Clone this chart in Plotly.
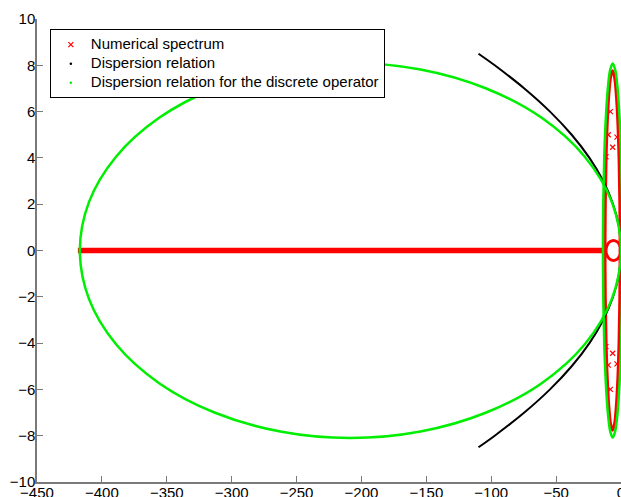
import plotly.graph_objects as go

# ---------------- data ----------------
# isolated eigenvalues of the numerical spectrum
spec_x = [-8.2, -9.8, -3.1, -6.4, -11.6, -8.2, -9.8, -3.1, -6.4, -11.6]
spec_y = [6.0, 5.0, 4.9, 4.46, 4.05, -6.0, -4.95, -4.9, -4.44, -4.15]

# dense real eigenvalues (solid band on the real axis)
band_x = [-418.5, -12.3]
band_y = [0.0, 0.0]

# elongated ellipse of eigenvalues (upper half, right end -> left end)
red_ell_x = [-0.7, -0.9, -1.48, -2.4, -3.6, -5.0, -6.5, -8.0, -9.4, -10.6, -11.52, -12.1, -12.3]
red_ell_y = [0.0, 2.01, 3.88, 5.49, 6.72, 7.5, 7.76, 7.5, 6.72, 5.49, 3.88, 2.01, 0.0]

# small ring of eigenvalues near the origin (upper half)
ring_x = [0.0, -0.78, -2.9, -5.8, -8.7, -10.82, -11.6]
ring_y = [0.0, 0.215, 0.372, 0.43, 0.372, 0.215, 0.0]

# continuous dispersion relation
disp_y = [8.5, 8, 7, 6, 5, 4, 3, 2, 1, 0, -1, -2, -3, -4, -5, -6, -7, -8, -8.5]
disp_x = [-109.8, -97.3, -74.5, -54.7, -38.0, -24.3, -13.7, -6.1, -1.5, 0.0,
          -1.5, -6.1, -13.7, -24.3, -38.0, -54.7, -74.5, -97.3, -109.8]

# discrete dispersion relation: large ellipse (upper half)
gbig_x = [0.0, -7.1, -27.9, -61.1, -104.3, -154.5, -208.5, -262.5, -312.8, -355.9, -389.1, -409.9, -417.0]
gbig_y = [0.0, 2.10, 4.05, 5.73, 7.01, 7.82, 8.10, 7.82, 7.01, 5.73, 4.05, 2.10, 0.0]

# discrete dispersion relation: narrow ellipse (upper half)
gsm_x = [1.1, 0.84, 0.1, -1.1, -2.65, -4.46, -6.4, -8.34, -10.15, -11.7, -12.9, -13.64, -13.9]
gsm_y = [0.0, 2.09, 4.04, 5.71, 7.0, 7.8, 8.08, 7.8, 7.0, 5.71, 4.04, 2.09, 0.0]

x_ticks = [-450, -400, -350, -300, -250, -200, -150, -100, -50, 0]
y_ticks = [-10, -8, -6, -4, -2, 0, 2, 4, 6, 8, 10]

legend_names = ["Numerical spectrum", "Dispersion relation",
                "Dispersion relation for the discrete operator"]


def closed(ux, uy):
    """upper half + mirrored lower half -> closed contour"""
    lx = ux[::-1][1:]
    ly = [-v for v in uy[::-1]][1:]
    return ux + lx, uy + ly


def big(s):
    return '<span style="font-size:15px">' + s + '</span>'


RED = "#ff0000"
GREEN = "#00ee00"
FONT = "Liberation Sans, Arial, sans-serif"

fig = go.Figure()

# --- Numerical spectrum (red) ---
fig.add_trace(go.Scatter(x=band_x, y=band_y, mode="lines",
                         line=dict(color=RED, width=5.5), showlegend=False, hoverinfo="skip"))
ex, ey = closed(red_ell_x, red_ell_y)
fig.add_trace(go.Scatter(x=ex, y=ey, mode="lines",
                         line=dict(color=RED, width=3, shape="spline"), showlegend=False))
rx, ry = closed(ring_x, ring_y)
fig.add_trace(go.Scatter(x=rx, y=ry, mode="lines",
                         line=dict(color=RED, width=3, shape="spline"), showlegend=False))
fig.add_trace(go.Scatter(x=spec_x, y=spec_y, mode="markers", name=big(legend_names[0]),
                         marker=dict(symbol="x-thin", size=5, color=RED,
                                     line=dict(color=RED, width=1.2))))

# --- Dispersion relation (black) ---
fig.add_trace(go.Scatter(x=disp_x, y=disp_y, mode="lines",
                         line=dict(color="black", width=2, shape="spline"), showlegend=False))
fig.add_trace(go.Scatter(x=[None], y=[None], mode="markers", name=big(legend_names[1]),
                         marker=dict(symbol="circle", size=2.5, color="black")))

# --- Discrete dispersion relation (green) ---
bx, by = closed(gbig_x, gbig_y)
fig.add_trace(go.Scatter(x=bx, y=by, mode="lines",
                         line=dict(color=GREEN, width=2.5, shape="spline"), showlegend=False))
sx, sy = closed(gsm_x, gsm_y)
fig.add_trace(go.Scatter(x=sx, y=sy, mode="lines",
                         line=dict(color=GREEN, width=2.5, shape="spline"), showlegend=False))
fig.add_trace(go.Scatter(x=[None], y=[None], mode="markers", name=big(legend_names[2]),
                         marker=dict(symbol="circle", size=2.5, color=GREEN)))

axis_common = dict(showgrid=False, zeroline=False, showline=True, linecolor="#7a7a7a",
                   linewidth=1.5, ticks="inside", ticklen=6, tickcolor="#7a7a7a",
                   tickwidth=1, tickfont=dict(family=FONT, size=15, color="black"),
                   automargin=False, mirror=False, ticklabeloverflow="allow")

fig.update_layout(
    width=621, height=497,
    margin=dict(l=37, r=0, t=19, b=15),
    paper_bgcolor="white", plot_bgcolor="white",
    xaxis=dict(range=[-450, 0], tickvals=x_ticks, ticklabelstandoff=-4, **axis_common),
    yaxis=dict(range=[-10, 10], tickvals=y_ticks, ticklabelstandoff=-3, **axis_common),
    legend=dict(x=0.022, y=0.978, xanchor="left", yanchor="top",
                bordercolor="black", borderwidth=1, bgcolor="white",
                font=dict(family=FONT, size=12, color="black"),
                tracegroupgap=0),
    showlegend=True,
)

fig.write_html("out.html")
